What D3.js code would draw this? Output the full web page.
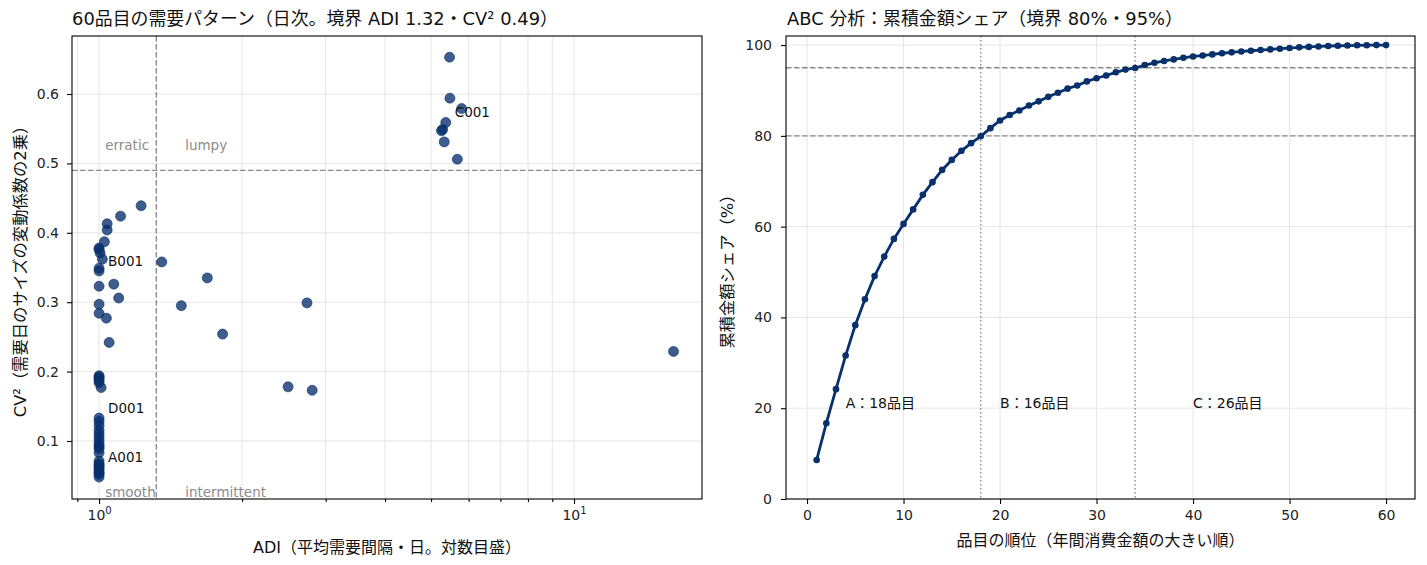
<!DOCTYPE html>
<html>
<head>
<meta charset="utf-8">
<script src="https://cdn.jsdelivr.net/npm/d3@7"></script>
<style>
  body { margin: 0; background: #fff; }
  svg text { font-family: "DejaVu Sans", "Noto Sans CJK JP", sans-serif; }
  .tick text { font-size: 14px; fill: #222; }
</style>
</head>
<body>
<div id="chart"></div>
<script>
// ---- left: demand pattern (ADI, CV²) ----
const adi = [
  5.47, 5.48, 5.80, 5.37, 5.29, 5.26, 5.33, 5.68,
  1.355, 1.69, 1.49, 1.82, 2.74, 2.50, 2.81, 16.2,
  1.226, 1.11, 1.04, 1.04, 1.026, 1.0, 1.005, 1.0, 1.016, 1.0, 1.0, 1.0, 1.074, 1.10, 1.0, 1.0, 1.036, 1.05,
  1.0, 1.0, 1.0, 1.0, 1.0, 1.01,
  1.0, 1.0, 1.0, 1.0, 1.0, 1.0, 1.0, 1.0, 1.0, 1.0, 1.0,
  1.0, 1.0, 1.0, 1.0, 1.0, 1.0, 1.0, 1.0, 1.0
];
const cv2 = [
  0.653, 0.594, 0.579, 0.559, 0.549, 0.547, 0.531, 0.506,
  0.358, 0.335, 0.295, 0.254, 0.299, 0.178, 0.173, 0.229,
  0.439, 0.424, 0.413, 0.404, 0.387, 0.378, 0.371, 0.376, 0.362, 0.349, 0.345, 0.323, 0.326, 0.306, 0.297, 0.284, 0.277, 0.242,
  0.194, 0.192, 0.190, 0.187, 0.184, 0.177,
  0.133, 0.128, 0.122, 0.115, 0.110, 0.105, 0.100, 0.095, 0.092, 0.089, 0.083,
  0.071, 0.067, 0.065, 0.062, 0.060, 0.056, 0.054, 0.052, 0.048
];
const labelled = [
  { id: "C001", i: 3 },
  { id: "B001", i: 26 },
  { id: "D001", i: 40 },
  { id: "A001", i: 54 }
];
const adiCut = 1.32, cvCut = 0.49;
const cvTicks = [0.1, 0.2, 0.3, 0.4, 0.5, 0.6];
const zones = [
  { text: "erratic", x: 1.03, y: 0.52 },
  { text: "lumpy", x: 1.518, y: 0.52 },
  { text: "smooth", x: 1.03, y: 0.019 },
  { text: "intermittent", x: 1.518, y: 0.019 }
];

// ---- right: ABC cumulative share ----
const cumShare = [
  8.6, 16.7, 24.2, 31.6, 38.3, 44.0, 49.1, 53.4, 57.3, 60.6,
  63.8, 67.0, 69.8, 72.5, 74.7, 76.7, 78.4, 79.9, 81.7, 83.4,
  84.6, 85.6, 86.7, 87.6, 88.6, 89.5, 90.4, 91.1, 92.0, 92.7,
  93.3, 94.0, 94.6, 94.95, 95.6, 96.1, 96.5, 96.85, 97.2, 97.5,
  97.7, 97.95, 98.2, 98.4, 98.6, 98.75, 98.9, 99.05, 99.2, 99.35,
  99.5, 99.6, 99.7, 99.8, 99.85, 99.9, 99.95, 99.97, 99.99, 100
];
const abcCuts = [80, 95];
const abcRanks = [18, 34];
const abcLabels = [
  { text: "A：18品目", x: 4 },
  { text: "B：16品目", x: 20 },
  { text: "C：26品目", x: 40 }
];
const shareTicks = [0, 20, 40, 60, 80, 100];
const rankTicks = [0, 10, 20, 30, 40, 50, 60];

const W = 1427, H = 565;
const navy = "#08306b";
const gridColor = "#e3e3e3";
const refColor = "#8c8c8c";
const dash = "5.6,2.4", dot = "1.5,2.5";

const svg = d3.select("#chart").append("svg")
  .attr("width", W).attr("height", H);

function styleAxis(g) {
  g.attr("font-family", null).attr("font-size", null);
  g.select(".domain").remove();
  g.selectAll(".tick line").attr("stroke", "#000").attr("stroke-width", 1.1);
}

// ================= LEFT =================
{
  const L = { x0: 72, x1: 702, y0: 36, y1: 499 };
  const x = d3.scaleLog().domain([0.877, 18.6]).range([L.x0, L.x1]);
  const y = d3.scaleLinear().domain([0.0164, 0.6836]).range([L.y1, L.y0]);
  const g = svg.append("g");

  const majors = [1, 10];
  const minors = [0.9, 2, 3, 4, 5, 6, 7, 8, 9];

  // grid
  g.append("g").selectAll("line").data(majors.concat(minors)).join("line")
    .attr("x1", d => x(d)).attr("x2", d => x(d))
    .attr("y1", L.y0).attr("y2", L.y1)
    .attr("stroke", gridColor).attr("stroke-width", 0.9);
  g.append("g").selectAll("line").data(cvTicks).join("line")
    .attr("x1", L.x0).attr("x2", L.x1)
    .attr("y1", d => y(d)).attr("y2", d => y(d))
    .attr("stroke", gridColor).attr("stroke-width", 0.9);

  // thresholds
  g.append("line")
    .attr("x1", x(adiCut)).attr("x2", x(adiCut)).attr("y1", L.y0).attr("y2", L.y1)
    .attr("stroke", refColor).attr("stroke-width", 1.4).attr("stroke-dasharray", dash);
  g.append("line")
    .attr("x1", L.x0).attr("x2", L.x1).attr("y1", y(cvCut)).attr("y2", y(cvCut))
    .attr("stroke", refColor).attr("stroke-width", 1.4).attr("stroke-dasharray", dash);

  // zone labels
  g.selectAll("text.zone").data(zones).join("text")
    .attr("class", "zone")
    .attr("x", d => x(d.x)).attr("y", d => y(d.y))
    .attr("fill", "#8c8c8c").style("font-size", "13.5px")
    .text(d => d.text);

  // points
  g.append("g").selectAll("circle").data(adi.map((a, i) => [a, cv2[i]])).join("circle")
    .attr("cx", d => x(d[0])).attr("cy", d => y(d[1]))
    .attr("r", 5)
    .attr("fill", navy).attr("fill-opacity", 0.78)
    .attr("stroke", navy).attr("stroke-opacity", 0.78).attr("stroke-width", 0.8);

  // item labels
  g.selectAll("text.item").data(labelled).join("text")
    .attr("class", "item")
    .attr("x", d => x(adi[d.i]) + 9).attr("y", d => y(cv2[d.i]) - 5)
    .style("font-size", "13.5px").attr("fill", "#111")
    .text(d => d.id);

  // axes
  const xMaj = g.append("g").attr("transform", `translate(0,${L.y1})`)
    .call(d3.axisBottom(x).tickValues(majors).tickSize(5).tickPadding(6).tickFormat(() => ""))
    .call(styleAxis);
  xMaj.selectAll(".tick text").each(function (d) {
    const t = d3.select(this);
    t.append("tspan").text("10");
    t.append("tspan").attr("dy", -6).style("font-size", "10px").text(Math.round(Math.log10(d)));
  });
  g.append("g").attr("transform", `translate(0,${L.y1})`)
    .call(d3.axisBottom(x).tickValues(minors).tickSize(3).tickFormat(() => ""))
    .call(styleAxis);
  g.append("g").attr("transform", `translate(${L.x0},0)`)
    .call(d3.axisLeft(y).tickValues(cvTicks).tickSize(5).tickPadding(8).tickFormat(d3.format(".1f")))
    .call(styleAxis);

  g.append("rect")
    .attr("x", L.x0).attr("y", L.y0).attr("width", L.x1 - L.x0).attr("height", L.y1 - L.y0)
    .attr("fill", "none").attr("stroke", "#000").attr("stroke-width", 1.1);

  g.append("text").attr("x", L.x0).attr("y", 25)
    .style("font-size", "17.9px").attr("fill", "#111")
    .text("60品目の需要パターン（日次。境界 ADI 1.32・CV² 0.49）");
  g.append("text").attr("x", (L.x0 + L.x1) / 2).attr("y", 553)
    .attr("text-anchor", "middle").style("font-size", "16px").attr("fill", "#111")
    .text("ADI（平均需要間隔・日。対数目盛）");
  g.append("text")
    .attr("transform", `translate(26,${(L.y0 + L.y1) / 2}) rotate(-90)`)
    .attr("text-anchor", "middle").style("font-size", "16.3px").attr("fill", "#111")
    .text("CV²（需要日のサイズの変動係数の2乗）");
}

// ================= RIGHT =================
{
  const R = { x0: 786, x1: 1415, y0: 36, y1: 499 };
  const x = d3.scaleLinear().domain([-2.18, 63.0]).range([R.x0, R.x1]);
  const y = d3.scaleLinear().domain([0, 102]).range([R.y1, R.y0]);
  const g = svg.append("g");

  g.append("g").selectAll("line").data(rankTicks).join("line")
    .attr("x1", d => x(d)).attr("x2", d => x(d)).attr("y1", R.y0).attr("y2", R.y1)
    .attr("stroke", gridColor).attr("stroke-width", 0.9);
  g.append("g").selectAll("line").data(shareTicks).join("line")
    .attr("x1", R.x0).attr("x2", R.x1).attr("y1", d => y(d)).attr("y2", d => y(d))
    .attr("stroke", gridColor).attr("stroke-width", 0.9);

  g.append("g").selectAll("line").data(abcCuts).join("line")
    .attr("x1", R.x0).attr("x2", R.x1).attr("y1", d => y(d)).attr("y2", d => y(d))
    .attr("stroke", refColor).attr("stroke-width", 1.4).attr("stroke-dasharray", dash);
  g.append("g").selectAll("line").data(abcRanks).join("line")
    .attr("x1", d => x(d)).attr("x2", d => x(d)).attr("y1", R.y0).attr("y2", R.y1)
    .attr("stroke", refColor).attr("stroke-width", 1.4).attr("stroke-dasharray", dot);

  const pts = cumShare.map((v, i) => [i + 1, v]);
  g.append("path").datum(pts)
    .attr("fill", "none").attr("stroke", navy).attr("stroke-width", 2.8)
    .attr("d", d3.line().x(d => x(d[0])).y(d => y(d[1])));
  g.append("g").selectAll("circle").data(pts).join("circle")
    .attr("cx", d => x(d[0])).attr("cy", d => y(d[1])).attr("r", 3.3)
    .attr("fill", navy);

  g.selectAll("text.abc").data(abcLabels).join("text")
    .attr("class", "abc")
    .attr("x", d => x(d.x)).attr("y", y(20))
    .style("font-size", "14px").attr("fill", "#111")
    .text(d => d.text);

  g.append("g").attr("transform", `translate(0,${R.y1})`)
    .call(d3.axisBottom(x).tickValues(rankTicks).tickSize(5).tickPadding(6))
    .call(styleAxis);
  g.append("g").attr("transform", `translate(${R.x0},0)`)
    .call(d3.axisLeft(y).tickValues(shareTicks).tickSize(5).tickPadding(9))
    .call(styleAxis);

  g.append("rect")
    .attr("x", R.x0).attr("y", R.y0).attr("width", R.x1 - R.x0).attr("height", R.y1 - R.y0)
    .attr("fill", "none").attr("stroke", "#000").attr("stroke-width", 1.1);

  g.append("text").attr("x", R.x0 + 1).attr("y", 25)
    .style("font-size", "17.9px").attr("fill", "#111")
    .text("ABC 分析：累積金額シェア（境界 80%・95%）");
  g.append("text").attr("x", (R.x0 + R.x1) / 2).attr("y", 546)
    .attr("text-anchor", "middle").style("font-size", "16px").attr("fill", "#111")
    .text("品目の順位（年間消費金額の大きい順）");
  g.append("text")
    .attr("transform", `translate(733,${(R.y0 + R.y1) / 2}) rotate(-90)`)
    .attr("text-anchor", "middle").style("font-size", "16.3px").attr("fill", "#111")
    .text("累積金額シェア（%）");
}
</script>
</body>
</html>
